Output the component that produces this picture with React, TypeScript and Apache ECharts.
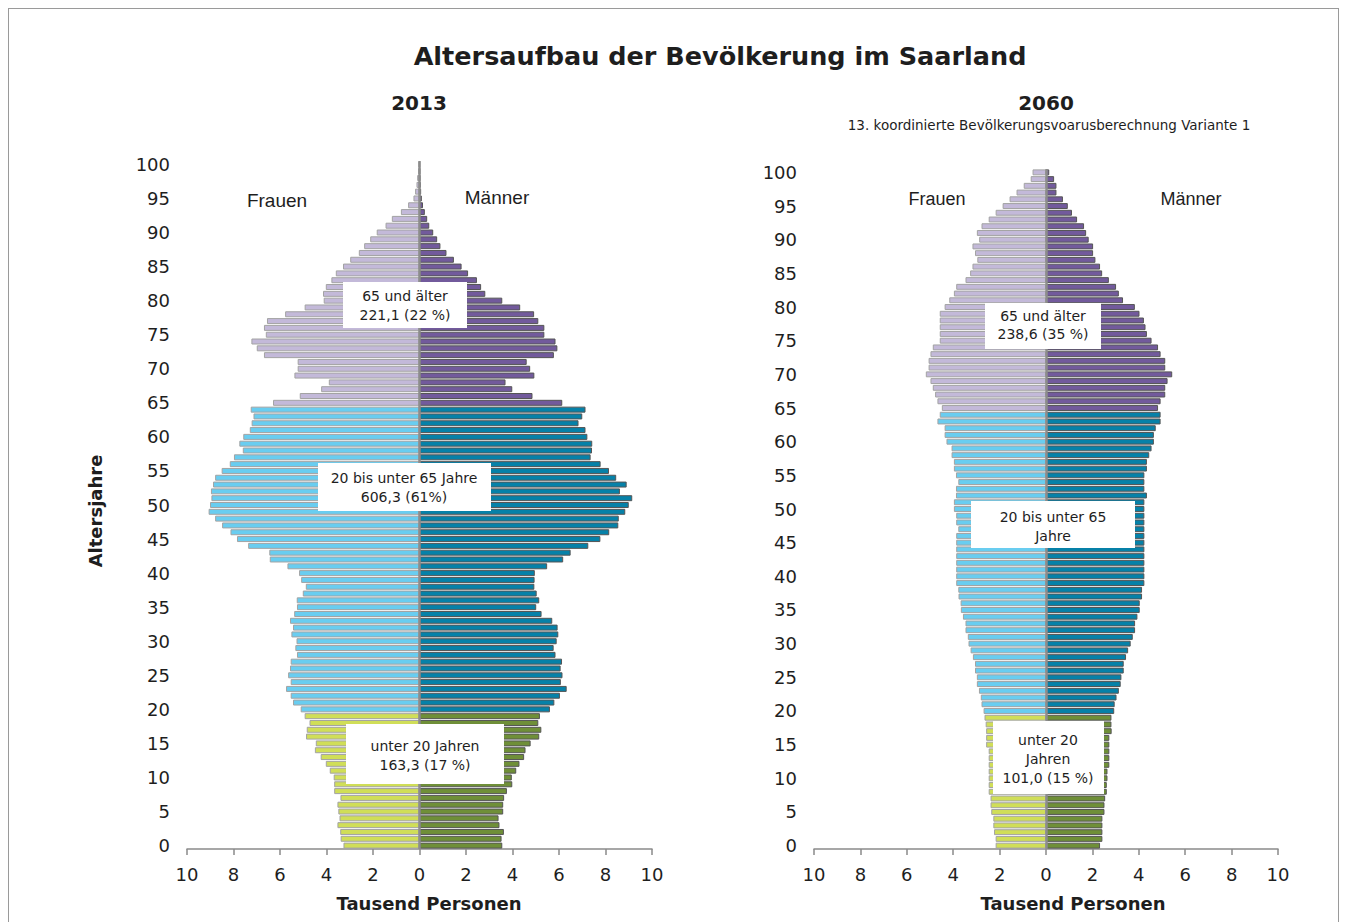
import React, { useEffect, useRef } from 'react';
import * as echarts from 'echarts';

// Ages 0..100 (category axis)
const ages: string[] = [];
for (let a = 0; a <= 100; a++) ages.push(String(a));

// 2013, thousand persons, index = age 0..100
const women2013 = [
  3.27, 3.39, 3.41, 3.53, 3.44, 3.49, 3.53, 3.40, 3.67, 3.67,
  3.69, 3.86, 4.03, 4.25, 4.50, 4.46, 4.88, 4.85, 4.73, 4.94,
  5.11, 5.44, 5.54, 5.74, 5.54, 5.65, 5.57, 5.54, 5.27, 5.34,
  5.29, 5.51, 5.44, 5.57, 5.39, 5.27, 5.28, 5.02, 4.89, 5.09,
  5.18, 5.68, 6.44, 6.46, 7.37, 7.85, 8.13, 8.49, 8.79, 9.07,
  9.01, 8.95, 8.97, 8.88, 8.79, 8.51, 8.16, 7.98, 7.60, 7.75,
  7.58, 7.30, 7.22, 7.14, 7.26, 6.30, 5.15, 4.23, 3.90, 5.38,
  5.24, 5.24, 6.69, 7.00, 7.23, 6.61, 6.69, 6.56, 5.78, 4.94,
  4.12, 4.15, 4.03, 3.79, 3.60, 3.29, 2.98, 2.61, 2.38, 2.12,
  1.84, 1.46, 1.19, 0.80, 0.49, 0.26, 0.19, 0.13, 0.10, 0.06,
  0.04,
];
const men2013 = [
  3.56, 3.53, 3.63, 3.44, 3.40, 3.60, 3.60, 3.64, 3.76, 3.99,
  3.97, 4.16, 4.30, 4.50, 4.56, 4.78, 5.15, 5.24, 5.11, 5.18,
  5.61, 5.80, 6.04, 6.33, 6.08, 6.15, 6.07, 6.13, 5.85, 5.77,
  5.90, 5.97, 5.94, 5.71, 5.25, 5.02, 5.15, 5.04, 4.94, 4.95,
  4.96, 5.49, 6.18, 6.50, 7.26, 7.78, 8.16, 8.55, 8.57, 8.85,
  9.00, 9.15, 8.62, 8.91, 8.46, 8.15, 7.79, 7.36, 7.42, 7.43,
  7.22, 7.14, 6.84, 7.00, 7.14, 6.14, 4.86, 3.99, 3.70, 4.94,
  4.76, 4.61, 5.78, 5.93, 5.85, 5.37, 5.37, 5.11, 4.93, 4.33,
  3.56, 2.83, 2.65, 2.47, 2.09, 1.81, 1.48, 1.16, 0.90, 0.76,
  0.59, 0.42, 0.33, 0.23, 0.15, 0.10, 0.07, 0.05, 0.03, 0.02,
  0.01,
];

// 2060 projection, thousand persons
const women2060 = [
  2.17, 2.17, 2.24, 2.27, 2.27, 2.36, 2.39, 2.39, 2.47, 2.47,
  2.47, 2.47, 2.47, 2.47, 2.47, 2.58, 2.58, 2.58, 2.60, 2.65,
  2.69, 2.78, 2.81, 2.89, 2.98, 2.98, 3.06, 3.06, 3.15, 3.25,
  3.34, 3.37, 3.47, 3.47, 3.58, 3.67, 3.68, 3.77, 3.78, 3.87,
  3.87, 3.87, 3.87, 3.87, 3.87, 3.87, 3.87, 3.78, 3.87, 3.87,
  3.97, 3.97, 3.88, 3.88, 3.78, 3.88, 3.97, 3.97, 4.07, 4.07,
  4.29, 4.37, 4.37, 4.68, 4.58, 4.49, 4.68, 4.78, 4.88, 4.98,
  5.18, 5.06, 5.06, 4.98, 4.88, 4.58, 4.58, 4.58, 4.58, 4.58,
  4.37, 4.17, 3.97, 3.87, 3.47, 3.27, 3.17, 2.96, 3.06, 3.17,
  2.88, 2.98, 2.78, 2.47, 2.17, 1.87, 1.57, 1.27, 0.96, 0.66,
  0.58,
];
const men2060 = [
  2.33, 2.43, 2.43, 2.43, 2.43, 2.52, 2.52, 2.55, 2.62, 2.62,
  2.65, 2.65, 2.73, 2.73, 2.73, 2.73, 2.73, 2.83, 2.82, 2.82,
  2.94, 2.96, 3.04, 3.14, 3.22, 3.25, 3.35, 3.35, 3.45, 3.54,
  3.65, 3.74, 3.84, 3.84, 3.94, 4.04, 4.04, 4.14, 4.14, 4.24,
  4.24, 4.24, 4.24, 4.24, 4.24, 4.24, 4.24, 4.24, 4.24, 4.24,
  4.24, 4.24, 4.35, 4.24, 4.24, 4.24, 4.35, 4.35, 4.45, 4.55,
  4.65, 4.65, 4.73, 4.94, 4.94, 4.83, 4.94, 5.14, 5.14, 5.24,
  5.44, 5.14, 5.14, 4.94, 4.83, 4.55, 4.35, 4.29, 4.22, 4.03,
  3.83, 3.32, 3.14, 3.02, 2.71, 2.42, 2.33, 2.13, 2.03, 2.03,
  1.84, 1.73, 1.64, 1.34, 1.12, 0.94, 0.73, 0.45, 0.45, 0.35,
  0.14,
];

const womenColors = ['#C3B9D9', '#69CDF0', '#D0DE58'];
const menColors = ['#725A9C', '#0681A8', '#6F8F38'];
const womenBorder = '#A3A3A3';
const menBorder = '#555555';

function groupOf(age: number): number {
  if (age >= 65) return 0;
  if (age >= 20) return 1;
  return 2;
}

function makeData(values: number[], sign: number, colors: string[], border: string) {
  return values.map((v, i) => ({
    value: sign * v,
    itemStyle: { color: colors[groupOf(i)], borderColor: border, borderWidth: 1 },
  }));
}

const FONT = '"DejaVu Sans", Verdana, sans-serif';

function xAxisCfg(gridIndex: number) {
  return {
    type: 'value',
    gridIndex,
    min: -10,
    max: 10,
    interval: 2,
    axisLine: { show: true, onZero: false, lineStyle: { color: '#8a8a8a', width: 1.5 } },
    axisTick: { show: true, length: 6, lineStyle: { color: '#8a8a8a', width: 1.5 } },
    splitLine: { show: false },
    axisLabel: {
      fontSize: 18,
      fontFamily: FONT,
      color: '#1e1e1e',
      margin: 16,
      formatter: (v: number) => String(Math.abs(v)),
    },
  };
}

function yAxisCfg(gridIndex: number) {
  return {
    type: 'category',
    gridIndex,
    data: ages,
    axisLine: { show: false },
    axisTick: { show: false },
    splitLine: { show: false },
    axisLabel: {
      interval: 4,
      fontSize: 18,
      fontFamily: FONT,
      color: '#1e1e1e',
      margin: 17,
    },
  };
}

function pyramidSeries(idx: number, women: number[], men: number[]) {
  return [
    {
      type: 'bar',
      xAxisIndex: idx,
      yAxisIndex: idx,
      data: makeData(women, -1, womenColors, womenBorder),
      barWidth: '88%',
      barGap: '-100%',
      silent: true,
    },
    {
      type: 'bar',
      xAxisIndex: idx,
      yAxisIndex: idx,
      data: makeData(men, 1, menColors, menBorder),
      barWidth: '88%',
      barGap: '-100%',
      silent: true,
      markLine: {
        silent: true,
        symbol: ['none', 'none'],
        label: { show: false },
        lineStyle: { color: '#8c8c8c', width: 2.5, type: 'solid' },
        data: [{ xAxis: 0 }],
      },
    },
  ];
}

function txt(x: number, y: number, text: string, font: string, extra: any = {}) {
  return {
    type: 'text',
    x,
    y,
    z: 100,
    ...extra,
    style: { text, font, fill: '#1e1e1e', align: 'center', verticalAlign: 'middle', ...(extra.style || {}) },
  };
}

function box(x: number, y: number, w: number, h: number) {
  return { type: 'rect', z: 99, shape: { x, y, width: w, height: h }, style: { fill: '#ffffff' } };
}

export default function App() {
  const ref = useRef<HTMLDivElement>(null);

  useEffect(() => {
    if (!ref.current) return;
    const chart = echarts.init(ref.current, undefined, { renderer: 'svg' });
    const boxFont = `14px ${FONT}`;
    chart.setOption({
      animation: false,
      backgroundColor: '#ffffff',
      grid: [
        { left: 178, top: 152, width: 465, height: 688 },
        { left: 805, top: 160, width: 464, height: 680 },
      ],
      xAxis: [xAxisCfg(0), xAxisCfg(1)],
      yAxis: [yAxisCfg(0), yAxisCfg(1)],
      series: [...pyramidSeries(0, women2013, men2013), ...pyramidSeries(1, women2060, men2060)],
      graphic: [
        txt(711, 47, 'Altersaufbau der Bevölkerung im Saarland', `bold 25.5px ${FONT}`),
        txt(410, 94, '2013', `bold 20px ${FONT}`),
        txt(1037, 94, '2060', `bold 20px ${FONT}`),
        txt(1040, 116, '13. koordinierte Bevölkerungsvoarusberechnung Variante 1', `13.5px ${FONT}`),
        txt(268, 191, 'Frauen', '19px "Liberation Sans", Arial, sans-serif'),
        txt(488, 188, 'Männer', '19px "Liberation Sans", Arial, sans-serif'),
        txt(928, 190, 'Frauen', '18px "Liberation Sans", Arial, sans-serif'),
        txt(1182, 190, 'Männer', '18px "Liberation Sans", Arial, sans-serif'),
        txt(420, 894, 'Tausend Personen', `bold 18px ${FONT}`),
        txt(1064, 894, 'Tausend Personen', `bold 18px ${FONT}`),
        txt(86, 502, 'Altersjahre', `bold 18px ${FONT}`, { rotation: Math.PI / 2 }),

        box(334, 273, 124, 46),
        txt(396, 296, '65 und älter\n221,1 (22 %)', boxFont, { style: { lineHeight: 19 } }),
        box(309, 454, 173, 48),
        txt(395, 478, '20 bis unter 65 Jahre\n606,3 (61%)', boxFont, { style: { lineHeight: 19 } }),
        box(337, 715, 158, 60),
        txt(416, 746, 'unter 20 Jahren\n163,3 (17 %)', boxFont, { style: { lineHeight: 19 } }),

        box(976, 294, 116, 46),
        txt(1034, 316, '65 und älter\n238,6 (35 %)', boxFont, { style: { lineHeight: 18 } }),
        box(962, 492, 164, 47),
        txt(1044, 517, '20 bis unter 65\nJahre', boxFont, { style: { lineHeight: 19 } }),
        box(984, 712, 111, 73),
        txt(1039, 750, 'unter 20\nJahren\n101,0 (15 %)', boxFont, { style: { lineHeight: 19 } }),
      ],
    });
    return () => chart.dispose();
  }, []);

  return (
    <div
      style={{
        position: 'absolute',
        left: 8,
        top: 8,
        width: 1331,
        height: 914,
        boxSizing: 'border-box',
        borderTop: '1px solid #9a9a9a',
        borderLeft: '1px solid #9a9a9a',
        borderRight: '1px solid #9a9a9a',
        background: '#fff',
      }}
    >
      <div ref={ref} style={{ width: 1329, height: 913 }} />
    </div>
  );
}
